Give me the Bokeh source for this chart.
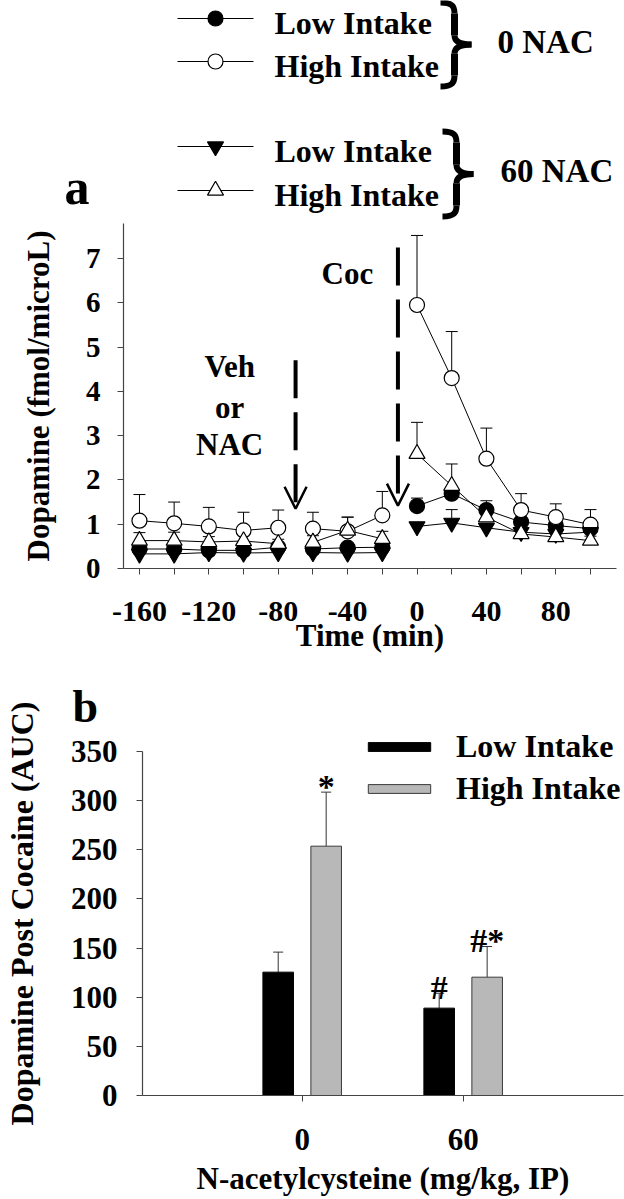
import numpy as np
from bokeh.plotting import figure
from bokeh.models import (Range1d, FixedTicker, ColumnDataSource, Arrow,
                          OpenHead, Label, Legend, LegendItem)
from bokeh.layouts import column
from bokeh.embed import file_html
from bokeh.resources import INLINE
from bokeh.core.properties import value

FONT = "Liberation Serif"

# ---------------- panel a data ----------------
time_min = [-160, -140, -120, -100, -80, -60, -40, -20, 0, 20, 40, 60, 80, 100]
phase = ["pre", "pre", "pre", "pre", "pre", "nac", "nac", "nac",
         "coc", "coc", "coc", "coc", "coc", "coc"]

low_0nac = [0.44, 0.44, 0.41, 0.41, 0.48, 0.44, 0.47, 0.48, 1.41, 1.69, 1.32, 1.05, 0.97, 0.90]
low_0nac_err = [0.08, 0.08, 0.08, 0.08, 0.08, 0.08, 0.08, 0.08, 0.18, 0.15, 0.21, 0.10, 0.10, 0.10]
high_0nac = [1.08, 1.02, 0.95, 0.86, 0.92, 0.90, 0.84, 1.20, 5.95, 4.30, 2.48, 1.32, 1.16, 0.99]
high_0nac_err = [0.59, 0.48, 0.43, 0.41, 0.40, 0.37, 0.32, 0.54, 1.57, 1.05, 0.69, 0.37, 0.30, 0.34]
low_60nac = [0.33, 0.33, 0.36, 0.35, 0.36, 0.36, 0.35, 0.36, 0.95, 1.03, 0.92, 0.82, 0.78, 0.82]
low_60nac_err = [0.05, 0.05, 0.05, 0.05, 0.05, 0.05, 0.05, 0.05, 0.08, 0.30, 0.10, 0.10, 0.08, 0.08]
high_60nac = [0.63, 0.63, 0.60, 0.62, 0.56, 0.59, 0.86, 0.67, 2.59, 1.87, 1.16, 0.78, 0.71, 0.63]
high_60nac_err = [0.18, 0.19, 0.12, 0.24, 0.10, 0.15, 0.30, 0.17, 0.71, 0.49, 0.20, 0.15, 0.12, 0.10]

x_tick_values = [-160, -140, -120, -100, -80, -60, -40, -20, 0, 20, 40, 60, 80, 100]
x_tick_labels = ["-160", "", "-120", "", "-80", "", "-40", "", "0", "", "40", "", "80", ""]
y_tick_values_a = [0, 1, 2, 3, 4, 5, 6, 7]

veh_time = -70
coc_time = -11

# ---------------- panel b data ----------------
nac_doses = ["0", "60"]
low_auc = [125.5, 88.9]
low_auc_err = [20.4, 15.2]
high_auc = [253.7, 120.4]
high_auc_err = [55.0, 31.2]
sig_low = ["", "#"]
sig_high = ["*", "#*"]
y_tick_values_b = [0, 50, 100, 150, 200, 250, 300, 350]

# series: (label, group, values, errors, marker, fill)
series_a = [
    ("Low Intake", "0 NAC", low_0nac, low_0nac_err, "circle", "black"),
    ("High Intake", "0 NAC", high_0nac, high_0nac_err, "circle", "white"),
    ("Low Intake", "60 NAC", low_60nac, low_60nac_err, "inverted_triangle", "black"),
    ("High Intake", "60 NAC", high_60nac, high_60nac_err, "triangle", "white"),
]

AX = "#444444"


def noalign(p):
    try:
        p.frame_align = False
    except Exception:
        pass


def style_axes(p, tick_size, label_size):
    p.grid.visible = False
    p.outline_line_color = None
    for ax in p.axis:
        ax.axis_line_color = AX
        ax.axis_line_width = 1.2
        ax.major_tick_line_color = AX
        ax.major_tick_out = 6
        ax.major_tick_in = 0
        ax.minor_tick_line_color = None
        ax.major_label_text_font = FONT
        ax.major_label_text_font_style = "bold"
        ax.major_label_text_font_size = tick_size
        ax.major_label_text_color = "black"
        ax.axis_label_text_font = FONT
        ax.axis_label_text_font_style = "bold"
        ax.axis_label_text_font_size = label_size
        ax.axis_label_text_color = "black"


def lbl(p, x, y, text, size, align="left", baseline="middle"):
    p.add_layout(Label(x=x, y=y, text=text, text_font=FONT, text_font_style="bold",
                       text_font_size=size, text_align=align, text_baseline=baseline,
                       text_color="black"))


def brace(p, x0, xm, x1, y0, y1):
    """Right curly brace (decoration) in pixel-like coordinates."""
    yc = (y0 + y1) / 2.0
    h = y1 - y0
    a = 0.13 * h
    b = 0.11 * h
    p.bezier(x0=[x0, xm, x0, xm], y0=[y0, yc - b, y1, yc + b],
             x1=[xm, x1, xm, x1], y1=[y0 + a, yc, y1 - a, yc],
             cx0=[xm - 2, xm, xm - 2, xm], cy0=[y0, yc - 2, y1, yc + 2],
             cx1=[xm, xm + 8, xm, xm + 8], cy1=[y0 + 4, yc, y1 - 4, yc],
             line_color="black", line_width=6)
    p.segment(x0=[xm, xm], y0=[y0 + a, yc + b], x1=[xm, xm], y1=[yc - b, y1 - a],
              line_color="black", line_width=7)


# ---------------- legend strip for panel a ----------------
pl = figure(width=624, height=220, x_range=Range1d(0, 624), y_range=Range1d(220, 0),
            x_axis_type=None, y_axis_type=None, output_backend="svg",
            toolbar_location=None, min_border=0)
noalign(pl)
pl.grid.visible = False
pl.outline_line_color = None

row_y = [18, 61, 146, 190]
for (lab, grp, vals, errs, mk, fill), ry in zip(series_a, row_y):
    pl.line([177, 253], [ry, ry], line_color="black", line_width=1)
    pl.scatter([215], [ry], marker=mk, size=15 if mk == "circle" else 16,
               fill_color=fill, line_color="black", line_width=1.2)
    lbl(pl, 274, ry + 4, lab, "32px")

group_names = ["0 NAC", "60 NAC"]
for g, (y0, y1), bx, gx in zip(group_names, [(2, 86), (131, 216)], [440, 442], [497, 500]):
    brace(pl, bx, bx + 14, bx + 31, y0, y1)
    lbl(pl, gx, (y0 + y1) / 2 - 3, g, "33px")

lbl(pl, 64, 186, "a", "50px")

# ---------------- panel a ----------------
pa = figure(width=624, height=453, x_range=Range1d(-169.2, 115), y_range=Range1d(0, 7.79),
            output_backend="svg", toolbar_location=None,
            min_border_left=123, min_border_right=8, min_border_top=3, min_border_bottom=105)
noalign(pa)
style_axes(pa, "30px", "31px")
pa.yaxis.major_label_text_font_size = "29px"
pa.xaxis.ticker = FixedTicker(ticks=x_tick_values)
pa.xaxis.major_label_overrides = {t: l for t, l in zip(x_tick_values, x_tick_labels)}
pa.yaxis.ticker = FixedTicker(ticks=y_tick_values_a)
pa.xaxis.axis_label = "Time (min)"
pa.yaxis.axis_label = "Dopamine (fmol/microL)"
pa.xaxis.major_label_standoff = 27
pa.xaxis.axis_label_standoff = -6
pa.yaxis.major_label_standoff = 17
pa.yaxis.axis_label_standoff = 27

for lab, grp, vals, errs, mk, fill in series_a:
    tops = [v + e for v, e in zip(vals, errs)]
    pa.segment(x0=time_min, y0=vals, x1=time_min, y1=tops, line_color="black", line_width=1)
    pa.scatter(time_min, tops, marker="dash", size=12, line_color="black", line_width=1)
    for ph in ["pre", "nac", "coc"]:
        xs = [t for t, p_ in zip(time_min, phase) if p_ == ph]
        ys = [v for v, p_ in zip(vals, phase) if p_ == ph]
        pa.line(xs, ys, line_color="black", line_width=1)

for lab, grp, vals, errs, mk, fill in series_a:
    pa.scatter(time_min, vals, marker=mk, size=15 if mk == "circle" else 16,
               fill_color=fill, line_color="black", line_width=1.2)

pa.add_layout(Arrow(end=OpenHead(size=22, line_width=2.5, line_color="black"),
                    x_start=veh_time, y_start=4.7, x_end=veh_time, y_end=1.35,
                    line_width=4, line_dash="38 14", line_color="black"))
pa.add_layout(Arrow(end=OpenHead(size=22, line_width=2.5, line_color="black"),
                    x_start=coc_time, y_start=7.25, x_end=coc_time, y_end=1.42,
                    line_width=4, line_dash="38 14", line_color="black"))
for txt, yy in zip(["Veh", "or", "NAC"], [4.55, 3.64, 2.8]):
    lbl(pa, -108, yy, txt, "31px", align="center")
lbl(pa, -55, 6.66, "Coc", "31px")

# ---------------- panel b ----------------
Y_TOP_B = 370.4
pb = figure(width=624, height=526, x_range=Range1d(-0.992, 1.996),
            y_range=Range1d(0, Y_TOP_B),
            output_backend="svg", toolbar_location=None,
            min_border_left=132, min_border_right=1, min_border_top=58, min_border_bottom=104)
noalign(pb)
style_axes(pb, "31px", "32px")
idx = list(range(len(nac_doses)))
pb.xaxis.ticker = FixedTicker(ticks=idx)
pb.xaxis.major_label_overrides = {i: d for i, d in zip(idx, nac_doses)}
pb.yaxis.ticker = FixedTicker(ticks=y_tick_values_b)
pb.yaxis.bounds = (0, 350)
pb.xaxis.axis_label = "N-acetylcysteine (mg/kg, IP)"
pb.yaxis.axis_label = "Dopamine Post Cocaine (AUC)"
pb.xaxis.axis_label_text_font_size = "31px"
pb.xaxis.major_label_standoff = 27
pb.xaxis.axis_label_standoff = 8
pb.yaxis.major_label_standoff = 19
pb.yaxis.axis_label_standoff = 28

pb.title.text = "b"
pb.title.text_font = FONT
pb.title.text_font_style = "bold"
pb.title.text_font_size = "46px"
pb.title.text_color = "black"
pb.title.align = "left"
pb.title.offset = -70
pb.title.standoff = 0

OFF = 0.149
BW = 0.19
src_low = ColumnDataSource(dict(x=[i - OFF for i in idx], top=low_auc,
                                up=[v + e for v, e in zip(low_auc, low_auc_err)], sig=sig_low))
src_high = ColumnDataSource(dict(x=[i + OFF for i in idx], top=high_auc,
                                 up=[v + e for v, e in zip(high_auc, high_auc_err)], sig=sig_high))
for src in (src_low, src_high):
    pb.segment(x0="x", y0="top", x1="x", y1="up", source=src, line_color="#333333", line_width=1)
    pb.scatter(x="x", y="up", source=src, marker="dash", size=10, line_color="#333333",
               line_width=1)
r_low = pb.vbar(x="x", top="top", width=BW, source=src_low, fill_color="black",
                line_color="black", line_width=1)
r_high = pb.vbar(x="x", top="top", width=BW, source=src_high, fill_color="#b8b8b8",
                 line_color="#3a3a3a", line_width=1)
for src in (src_low, src_high):
    pb.text(x="x", y="up", text="sig", source=src, text_font=value(FONT),
            text_font_style="bold", text_font_size="34px", text_align="center",
            text_baseline="alphabetic", y_offset=-6, text_color="black")

leg = Legend(items=[LegendItem(label="Low Intake", renderers=[r_low]),
                    LegendItem(label="High Intake", renderers=[r_high])],
             location=(218, 288), orientation="vertical",
             label_text_font=FONT, label_text_font_style="bold", label_text_font_size="32px",
             label_text_color="black",
             glyph_width=78, glyph_height=11, label_standoff=18, spacing=5,
             label_height=20, padding=0, margin=0, border_line_color=None,
             background_fill_alpha=0)
pb.add_layout(leg)

layout = column(pl, pa, pb, spacing=0)
open("out.html", "w").write(file_html(layout, INLINE))
